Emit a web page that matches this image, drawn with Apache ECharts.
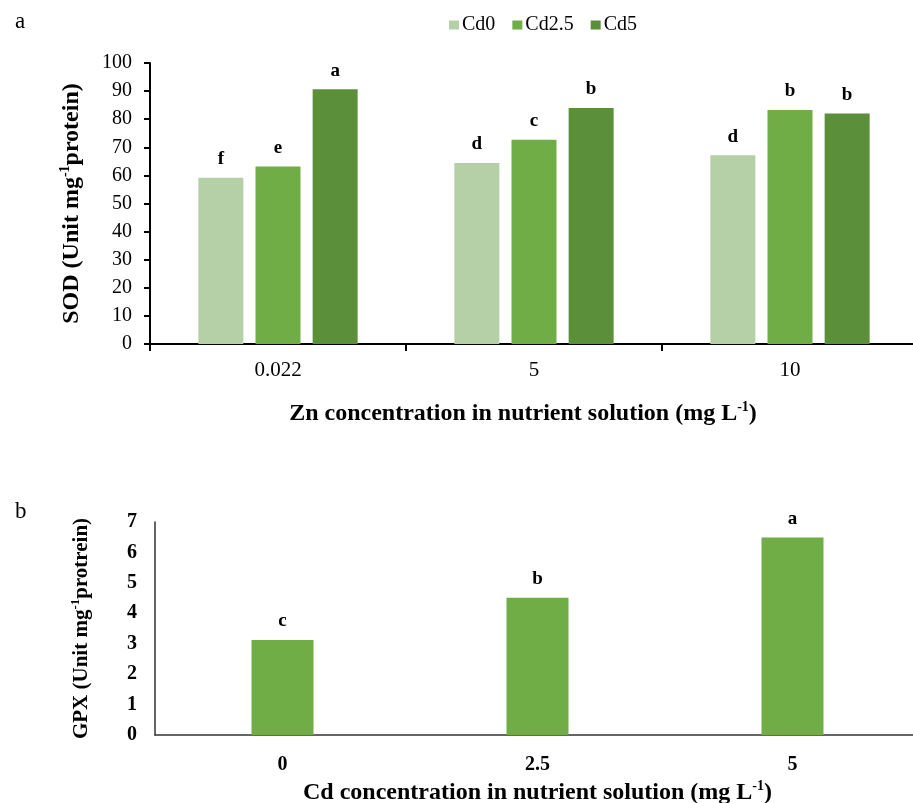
<!DOCTYPE html>
<html>
<head>
<meta charset="utf-8">
<script src="https://cdn.jsdelivr.net/npm/echarts@6/dist/echarts.min.js"></script>
<style>
  html, body { margin: 0; padding: 0; background: #fff; }
  #chart { width: 913px; height: 803px; }
</style>
</head>
<body>
<div id="chart"></div>
<script>
// panel a: SOD by Zn level, grouped by Cd treatment
const znLevels = ['0.022', '5', '10'];
const sodCd0 = [59.2, 64.4, 67.2];
const sodCd25 = [63.2, 72.7, 83.3];
const sodCd5 = [90.7, 84.0, 82.0];
const lettersCd0 = ['f', 'd', 'd'];
const lettersCd25 = ['e', 'c', 'b'];
const lettersCd5 = ['a', 'b', 'b'];

// panel b: GPX by Cd level
const cdLevels = ['0', '2.5', '5'];
const gpxValues = [3.12, 4.51, 6.49];
const gpxLetters = ['c', 'b', 'a'];

const serif = 'Liberation Serif';
const black = '#000';

const letterLabel = (letters) => ({
  show: true,
  position: 'top',
  distance: 9,
  fontFamily: serif,
  fontWeight: 'bold',
  fontSize: 19,
  color: black,
  formatter: p => letters[p.dataIndex]
});

// axis names with a "-1" superscript
const supRich = (size) => ({
  b: { fontFamily: serif, fontWeight: 'bold', fontSize: size, color: black, lineHeight: size + 4 },
  s: { fontFamily: serif, fontWeight: 'bold', fontSize: Math.round(size * 0.6), color: black, verticalAlign: 'top', lineHeight: size + 4 }
});

const chart = echarts.init(document.getElementById('chart'));

chart.setOption({
  backgroundColor: '#fff',
  animation: false,
  title: [
    { text: 'a', left: 10, top: 5, textStyle: { fontFamily: serif, fontWeight: 'normal', fontSize: 23, color: black } },
    { text: 'b', left: 10, top: 495, textStyle: { fontFamily: serif, fontWeight: 'normal', fontSize: 23, color: black } }
  ],
  legend: {
    data: ['Cd0', 'Cd2.5', 'Cd5'],
    left: 444,
    top: 10,
    icon: 'rect',
    itemWidth: 10,
    itemHeight: 9,
    itemGap: 17,
    textStyle: { fontFamily: serif, fontSize: 20, color: black, padding: [0, 0, 0, -2] }
  },
  grid: [
    { left: 150, width: 768, top: 63, height: 281, outerBoundsMode: 'none' },
    { left: 155, width: 765, top: 522, height: 213, outerBoundsMode: 'none' }
  ],
  xAxis: [
    {
      type: 'category',
      gridIndex: 0,
      data: znLevels,
      axisLine: { lineStyle: { color: black, width: 2 } },
      axisTick: { show: true, length: 7, lineStyle: { color: black, width: 2 } },
      axisLabel: { fontFamily: serif, fontSize: 21, color: black, margin: 16 },
      name: '{b|Zn concentration in nutrient solution (mg L}{s|-1}{b|)}',
      nameLocation: 'middle',
      nameGap: 56,
      nameTextStyle: { rich: supRich(24), padding: [0, 22, 0, 0] }
    },
    {
      type: 'category',
      gridIndex: 1,
      data: cdLevels,
      axisLine: { lineStyle: { color: '#333', width: 1.5 } },
      axisTick: { show: false },
      axisLabel: { fontFamily: serif, fontWeight: 'bold', fontSize: 20, color: black, margin: 20 },
      name: '{b|Cd concentration in nutrient solution (mg L}{s|-1}{b|)}',
      nameLocation: 'middle',
      nameGap: 44,
      nameTextStyle: { rich: supRich(24) }
    }
  ],
  yAxis: [
    {
      type: 'value',
      gridIndex: 0,
      min: 0,
      max: 100,
      interval: 10,
      splitLine: { show: false },
      axisLine: { show: true, lineStyle: { color: black, width: 2 } },
      axisTick: { show: true, length: 6, lineStyle: { color: black, width: 2 } },
      axisLabel: { fontFamily: serif, fontSize: 20, color: black, margin: 18 },
      name: '{b|SOD (Unit mg}{s|-1}{b|protein)}',
      nameLocation: 'middle',
      nameRotate: 90,
      nameGap: 64,
      nameTextStyle: { rich: supRich(24) }
    },
    {
      type: 'value',
      gridIndex: 1,
      min: 0,
      max: 7,
      interval: 1,
      splitLine: { show: false },
      axisLine: { show: true, lineStyle: { color: '#333', width: 1.5 } },
      axisTick: { show: false },
      axisLabel: { fontFamily: serif, fontWeight: 'bold', fontSize: 20, color: black, margin: 18 },
      name: '{b|GPX (Unit mg}{s|-1}{b|protrein)}',
      nameLocation: 'middle',
      nameRotate: 90,
      nameGap: 61,
      nameTextStyle: { rich: supRich(21) }
    }
  ],
  series: [
    {
      name: 'Cd0', type: 'bar', xAxisIndex: 0, yAxisIndex: 0,
      data: sodCd0, barWidth: 45, barGap: '27%',
      itemStyle: { color: '#b5cfa7' },
      label: letterLabel(lettersCd0)
    },
    {
      name: 'Cd2.5', type: 'bar', xAxisIndex: 0, yAxisIndex: 0,
      data: sodCd25, barWidth: 45, barGap: '27%',
      itemStyle: { color: '#70ad47' },
      label: letterLabel(lettersCd25)
    },
    {
      name: 'Cd5', type: 'bar', xAxisIndex: 0, yAxisIndex: 0,
      data: sodCd5, barWidth: 45, barGap: '27%',
      itemStyle: { color: '#5b8f3a' },
      label: letterLabel(lettersCd5)
    },
    {
      name: 'GPX', type: 'bar', xAxisIndex: 1, yAxisIndex: 1,
      data: gpxValues, barWidth: 62,
      itemStyle: { color: '#70ad47' },
      label: letterLabel(gpxLetters)
    }
  ]
});
</script>
</body>
</html>
